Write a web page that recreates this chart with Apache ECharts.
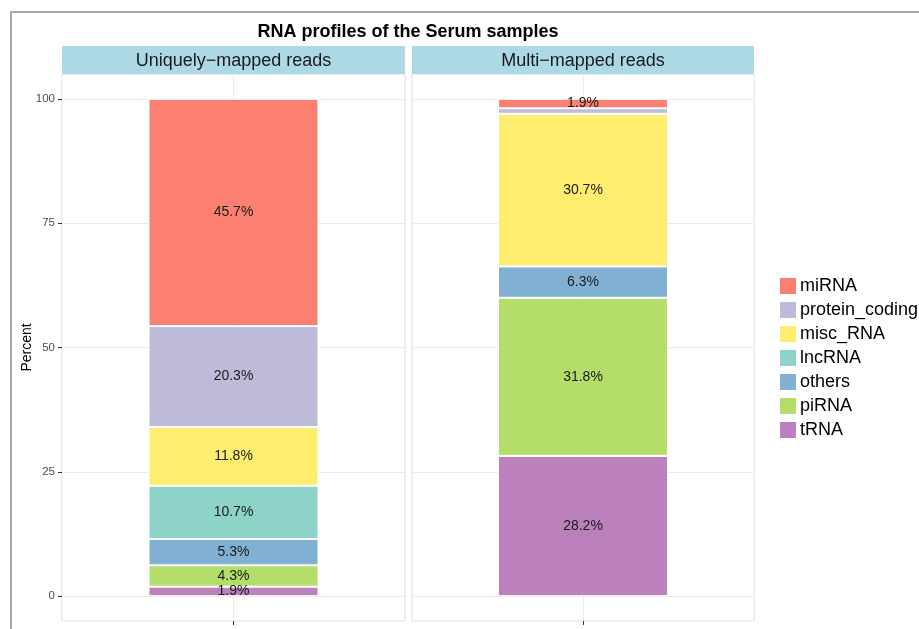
<!DOCTYPE html>
<html>
<head>
<meta charset="utf-8">
<script src="https://cdn.jsdelivr.net/npm/echarts@6/dist/echarts.min.js"></script>
<style>
  html, body { margin: 0; padding: 0; background: #fff; }
  #chart { width: 919px; height: 629px; }
</style>
</head>
<body>
<div id="chart"></div>
<script>
// stacking order: first entry sits at the bottom of the bar
var rnaTypes = ['tRNA', 'piRNA', 'others', 'lncRNA', 'misc_RNA', 'protein_coding', 'miRNA'];
var legendOrder = ['miRNA', 'protein_coding', 'misc_RNA', 'lncRNA', 'others', 'piRNA', 'tRNA'];
var colors = ['#BC80BD', '#B3DE69', '#80B1D3', '#8DD3C7', '#FFED6F', '#BEBADA', '#FB8072'];
var panels = ['Uniquely\u2212mapped reads', 'Multi\u2212mapped reads'];
var uniqueReads = [1.9, 4.3, 5.3, 10.7, 11.8, 20.3, 45.7];
var multiReads = [28.2, 31.8, 6.3, 0, 30.7, 1.1, 1.9];
var yTicks = [0, 25, 50, 75, 100];
var sampleName = ['Serum'];

var myChart = echarts.init(document.getElementById('chart'));
var font = 'Liberation Sans, Arial, sans-serif';

var grids = [
  { left: 62, top: 74, width: 343, height: 547 },
  { left: 412, top: 74, width: 342, height: 547 }
];

var xAxes = [], yAxes = [];
grids.forEach(function (g, i) {
  g.show = true;
  g.borderColor = '#dedede';
  g.borderWidth = 1;
  g.backgroundColor = '#fff';
  xAxes.push({
    type: 'category',
    gridIndex: i,
    data: sampleName,
    axisLine: { show: false, onZero: false },
    axisTick: { show: true, alignWithLabel: true, length: 4, lineStyle: { color: '#333' } },
    axisLabel: { show: false },
    splitLine: { show: false }
  });
  yAxes.push({
    type: 'value',
    gridIndex: i,
    min: -5,
    max: 105,
    name: i === 0 ? 'Percent' : '',
    nameLocation: 'middle',
    nameGap: 28,
    nameMoveOverlap: false,
    nameTextStyle: { fontFamily: font, fontSize: 14, color: '#000' },
    axisLine: { show: false },
    axisTick: { show: i === 0, length: 4, customValues: yTicks, lineStyle: { color: '#333' } },
    axisLabel: { show: i === 0, customValues: yTicks, fontFamily: font, fontSize: 11.5, color: '#4d4d4d', margin: 7 },
    splitLine: { show: true, lineStyle: { color: '#ebebeb', width: 1 } }
  });
});
// helper axes: only used for the vertical grid line through the bar centre
grids.forEach(function (g, i) {
  xAxes.push({
    type: 'category',
    gridIndex: i,
    data: ['', sampleName[0], ''],
    boundaryGap: false,
    axisLine: { show: false },
    axisTick: { show: false },
    axisLabel: { show: false },
    splitLine: {
      show: true,
      interval: function (idx) { return idx === 1; },
      lineStyle: { color: '#ebebeb', width: 1 }
    }
  });
});

var series = [];
[uniqueReads, multiReads].forEach(function (vals, p) {
  rnaTypes.forEach(function (name, k) {
    var v = vals[k];
    series.push({
      name: name,
      type: 'bar',
      stack: 'panel' + p,
      xAxisIndex: p,
      yAxisIndex: p,
      barWidth: 170,
      data: [v],
      itemStyle: { color: colors[k], borderColor: '#fff', borderWidth: 1 },
      label: {
        show: v >= 1.5,
        position: 'inside',
        formatter: function (d) { return d.value.toFixed(1) + '%'; },
        fontFamily: font,
        fontSize: 14,
        color: '#1a1a1a'
      }
    });
  });
});

var graphic = [
  { type: 'rect', shape: { x: 11, y: 12, width: 930, height: 640 }, style: { fill: 'none', stroke: '#a8a8a8', lineWidth: 2 }, z: -10 }
];
grids.forEach(function (g, i) {
  graphic.push({
    type: 'rect',
    shape: { x: g.left, y: 46, width: g.width, height: 28 },
    style: { fill: '#ADD8E6' }
  });
  graphic.push({
    type: 'text',
    x: g.left + g.width / 2,
    y: 61,
    style: { text: panels[i], fontFamily: font, fontSize: 18, fill: '#1a1a1a', align: 'center', verticalAlign: 'middle' }
  });
});

var option = {
  animation: false,
  title: {
    text: 'RNA profiles of the Serum samples',
    left: 403,
    top: 18,
    textAlign: 'center',
    textStyle: { fontFamily: font, fontSize: 18, fontWeight: 'bold', color: '#000' }
  },
  legend: {
    data: legendOrder,
    orient: 'vertical',
    left: 773,
    top: 271,
    itemWidth: 18,
    itemHeight: 18,
    itemGap: 4,
    icon: 'rect',
    textStyle: { fontFamily: font, fontSize: 18, color: '#000', padding: [0, 0, 0, -2] }
  },
  grid: grids,
  xAxis: xAxes,
  yAxis: yAxes,
  series: series,
  graphic: graphic
};

option && myChart.setOption(option);
</script>
</body>
</html>
